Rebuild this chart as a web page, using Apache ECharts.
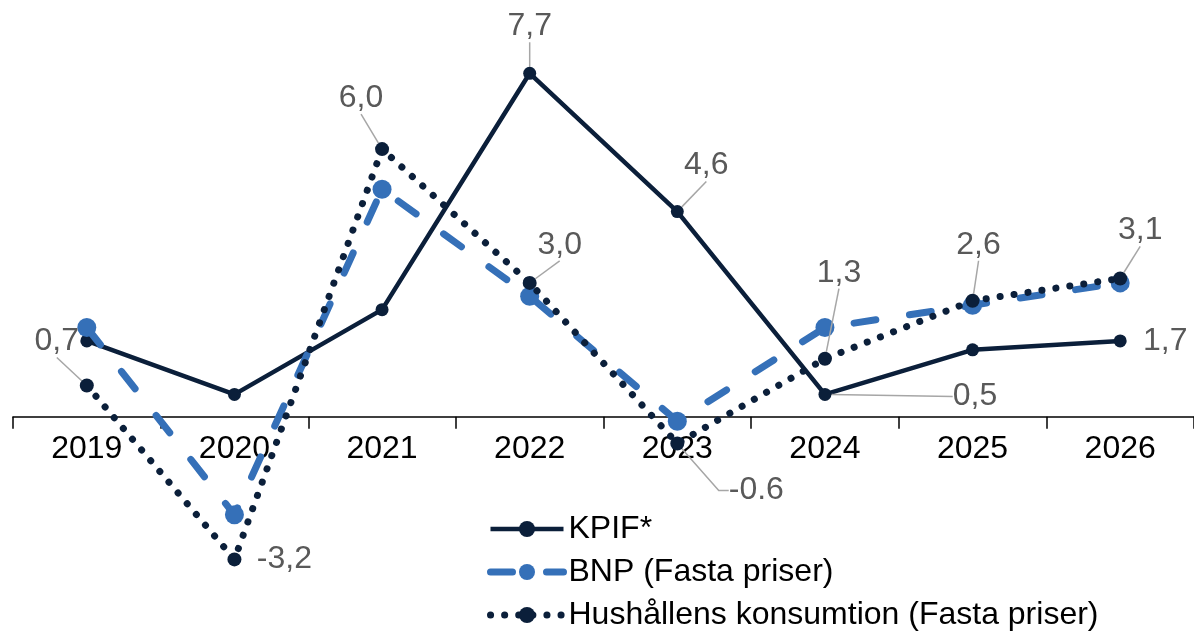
<!DOCTYPE html>
<html><head><meta charset="utf-8">
<script src="https://cdn.jsdelivr.net/npm/echarts@6/dist/echarts.min.js"></script>
<style>html,body{margin:0;padding:0;background:#fff}#c{width:1194px;height:633px}</style>
</head><body><div id="c"></div>
<script>
const categories = ['2019','2020','2021','2022','2023','2024','2025','2026'];
const kpif = [1.7, 0.5, 2.4, 7.7, 4.6, 0.5, 1.5, 1.7];
const bnp  = [2.0, -2.2, 5.1, 2.7, -0.1, 2.0, 2.5, 3.0];
const hush = [0.7, -3.2, 6.0, 3.0, -0.6, 1.3, 2.6, 3.1];
const kpifLabels = [null, null, null, '7,7', '4,6', '0,5', null, '1,7'];
const bnpLabels  = [null, null, null, null, null, null, null, null];
const hushLabels = ['0,7', '-3,2', '6,0', '3,0', '-0.6', '1,3', '2,6', '3,1'];
const seriesNames = ['KPIF*', 'BNP (Fasta priser)', 'Hushållens konsumtion (Fasta priser)'];

// label offsets (label centre relative to point centre), leader flag, leader tail length
const offsets = {
  0: {3:[0,-47,true,0], 4:[29,-46,true,0], 5:[150,2,true,0], 7:[45,0,false,0]},
  2: {0:[-30,-44,true,0], 1:[50,0,false,0], 2:[-21,-51,true,0], 3:[30,-38,true,0], 4:[79,47,true,10], 5:[14,-86,true,0], 6:[6,-56,true,0], 7:[20,-48,true,0]}
};
const NAVY = '#0b1f3a', BLUE = '#3570b8', GREY = '#595959';
const FONT = '"Liberation Sans", Arial, sans-serif';
const FS = 32;
const YMIN = -4, YMAX = 8;
const GRID = {left: 13, right: 0, top: 59.9, bottom: 37.9};

function mk(values, labels, si) {
  return values.map((v, i) => {
    const o = offsets[si] && offsets[si][i];
    return {
      value: v,
      label: {show: !!labels[i], formatter: labels[i] || ''},
      labelLine: {show: !!(o && o[2]), length2: o ? o[3] : 0}
    };
  });
}
const labelBase = {show: false, fontSize: FS, color: GREY, fontFamily: FONT};
const labelLine = {show: true, lineStyle: {color: '#a6a6a6', width: 1.5}};
function layoutFor(si) {
  return function (p) {
    const o = offsets[si] && offsets[si][p.dataIndex];
    if (!o) return {};
    return {
      x: p.rect.x + p.rect.width / 2 + o[0],
      y: p.rect.y + p.rect.height / 2 + o[1],
      align: 'center', verticalAlign: 'middle'
    };
  };
}
const el = document.getElementById('c');
const chart = echarts.init(el);
const plotH = 633 - GRID.top - GRID.bottom;
const zeroOffset = -plotH * (0 - YMIN) / (YMAX - YMIN);
chart.setOption({
  animation: false,
  textStyle: {fontFamily: FONT},
  grid: GRID,
  xAxis: {
    type: 'category', data: categories, boundaryGap: true,
    offset: zeroOffset,
    axisLine: {onZero: false, lineStyle: {color: '#000', width: 1.5}},
    axisTick: {show: true, length: 12, lineStyle: {color: '#000', width: 1.5}},
    axisLabel: {fontSize: FS, color: '#000', margin: 16, fontFamily: FONT},
    splitLine: {show: false}
  },
  yAxis: {type: 'value', min: YMIN, max: YMAX, show: false, splitLine: {show: false}},
  legend: {
    orient: 'vertical', left: 487, top: 513, itemGap: 11, padding: 0,
    itemWidth: 73, itemHeight: 20,
    textStyle: {fontSize: FS, color: '#000', fontFamily: FONT},
    data: [
      {name: seriesNames[0], lineStyle: {width: 4.5}},
      {name: seriesNames[1], lineStyle: {width: 7}},
      {name: seriesNames[2], lineStyle: {width: 7}}
    ]
  },
  series: [
    {
      name: seriesNames[0], type: 'line', data: mk(kpif, kpifLabels, 0),
      symbol: 'circle', symbolSize: 13,
      lineStyle: {color: NAVY, width: 4.5},
      itemStyle: {color: NAVY},
      label: labelBase, labelLine: labelLine, labelLayout: layoutFor(0), z: 2
    },
    {
      name: seriesNames[1], type: 'line', data: mk(bnp, bnpLabels, 1),
      symbol: 'circle', symbolSize: 19,
      lineStyle: {color: BLUE, width: 7, type: [22, 34], cap: 'round'},
      itemStyle: {color: BLUE},
      label: labelBase, z: 3
    },
    {
      name: seriesNames[2], type: 'line', data: mk(hush, hushLabels, 2),
      symbol: 'circle', symbolSize: 14,
      lineStyle: {color: NAVY, width: 7, type: [0.1, 14], cap: 'round'},
      itemStyle: {color: NAVY},
      label: labelBase, labelLine: labelLine, labelLayout: layoutFor(2), z: 4
    }
  ]
});
</script></body></html>
